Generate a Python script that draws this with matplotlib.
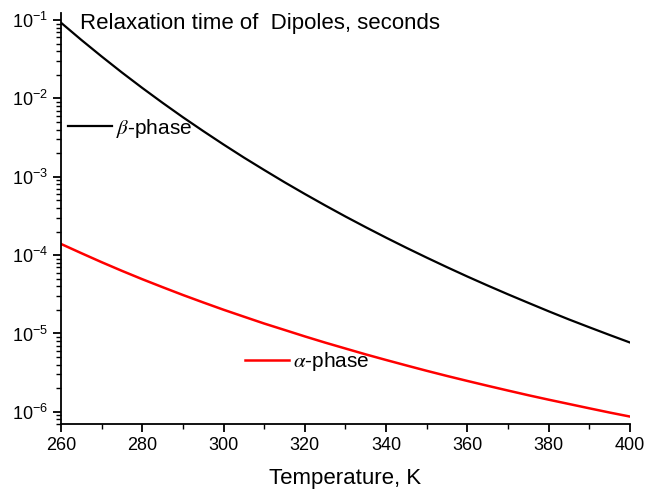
import matplotlib
matplotlib.use('Agg')
from matplotlib import pyplot as plt
import numpy as np

plt.rcParams['font.family'] = ['Liberation Sans', 'DejaVu Sans']
plt.rcParams['mathtext.fontset'] = 'stix'

# temperature, K
temperature = [260, 265, 270, 275, 280, 285, 290, 295, 300, 305, 310, 315, 320, 325,
               330, 335, 340, 345, 350, 355, 360, 365, 370, 375, 380, 385, 390, 395, 400]

# relaxation time of dipoles, seconds
tau_beta = [9.25e-2, 5.58e-2, 3.43e-2, 2.14e-2, 1.36e-2, 8.78e-3, 5.75e-3, 3.83e-3,
            2.58e-3, 1.76e-3, 1.22e-3, 8.52e-4, 6.03e-4, 4.31e-4, 3.11e-4, 2.27e-4,
            1.67e-4, 1.24e-4, 9.29e-5, 7.01e-5, 5.33e-5, 4.09e-5, 3.16e-5, 2.46e-5,
            1.92e-5, 1.51e-5, 1.20e-5, 9.57e-6, 7.67e-6]
tau_alpha = [1.39e-4, 1.06e-4, 8.13e-5, 6.30e-5, 4.93e-5, 3.90e-5, 3.10e-5, 2.49e-5,
             2.01e-5, 1.64e-5, 1.34e-5, 1.11e-5, 9.18e-6, 7.65e-6, 6.43e-6, 5.41e-6,
             4.59e-6, 3.91e-6, 3.34e-6, 2.87e-6, 2.48e-6, 2.15e-6, 1.87e-6, 1.63e-6,
             1.43e-6, 1.26e-6, 1.11e-6, 9.80e-7, 8.71e-7]

fig = plt.figure(figsize=(6.6, 4.94), dpi=100)
ax = fig.add_axes([0.0924, 0.1417, 0.8621, 0.832])

beta_line, = ax.plot(temperature, tau_beta, color='black', lw=1.6)
alpha_line, = ax.plot(temperature, tau_alpha, color='red', lw=1.8)

ax.set_yscale('log')
ax.set_xlim(260, 400)
ax.set_ylim(7.0e-7, 0.123)
ax.set_xticks(np.arange(260, 401, 20))
ax.set_xticks(np.arange(270, 400, 20), minor=True)

for side in ['top', 'right']:
    ax.spines[side].set_visible(False)
for side in ['left', 'bottom']:
    ax.spines[side].set_linewidth(1.3)

ax.tick_params(which='major', direction='out', length=6, width=1.3, labelsize=13)
ax.tick_params(which='minor', direction='out', length=3.5, width=1.0)

ax.set_xlabel('Temperature, K', fontsize=16, labelpad=10)

ax.text(0.033, 1.0, 'Relaxation time of  Dipoles, seconds', transform=ax.transAxes,
        fontsize=16, ha='left', va='top')

# curve labels, drawn as one-entry legends
leg1 = ax.legend([beta_line], [r'$\beta$-phase'], loc='center left',
                 bbox_to_anchor=(0.012, 0.72), frameon=False, fontsize=15,
                 handlelength=2.1, handletextpad=0.2, borderpad=0, borderaxespad=0)
ax.add_artist(leg1)
ax.legend([alpha_line], [r'$\alpha$-phase'], loc='center left',
          bbox_to_anchor=(0.323, 0.151), frameon=False, fontsize=15,
          handlelength=2.1, handletextpad=0.2, borderpad=0, borderaxespad=0)

fig.savefig('out.png', dpi=100)
